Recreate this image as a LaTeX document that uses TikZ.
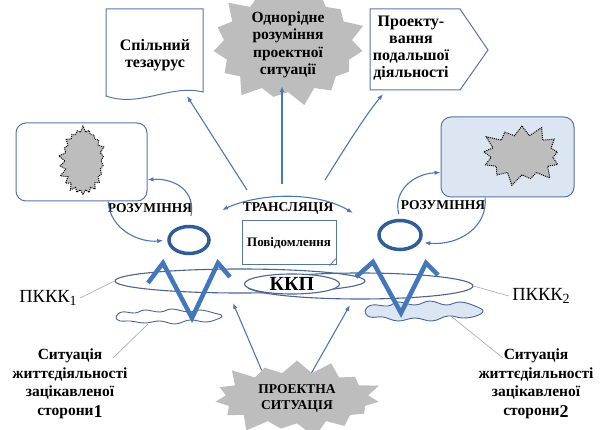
\documentclass[tikz,border=0pt]{standalone}
\usepackage{fontspec}
\setmainfont{Liberation Serif}
\usetikzlibrary{arrows.meta,positioning,calc,shapes.geometric,shapes.symbols}
\definecolor{linkblue}{HTML}{4A78B8}
\definecolor{figblue}{HTML}{4377BC}
\definecolor{headblue}{HTML}{2F5D98}
\definecolor{boxline}{HTML}{5676A6}
\definecolor{ringline}{HTML}{4A6590}
\definecolor{starfill}{HTML}{BDBDBD}
\definecolor{paleblue}{HTML}{DCE6F2}
\definecolor{leadgray}{HTML}{A0A8B4}
\newcommand\lowidx[2]{\raisebox{-0.35ex}{\fontsize{#1}{#1}\selectfont #2}}

\begin{document}
\begin{tikzpicture}[x=1pt,y=-1pt,
  lbl/.style={font=\bfseries\fontsize{16}{17}\selectfont, align=center},
  caps/.style={font=\bfseries\fontsize{13.5}{16}\selectfont, align=center},
  link/.style={linkblue, line width=1.1pt, -{Latex[length=6pt,width=4.5pt]}},
  lead/.style={leadgray, line width=0.6pt},
  burst/.style={starburst, fill=starfill, draw=none, starburst points=15,
    starburst point height=17pt, inner ysep=0pt},
  splat/.style={starburst, fill=starfill, draw=black, densely dotted,
    line width=1pt, inner sep=0pt},
  panel/.style={draw=boxline, line width=1pt, rounded corners=10pt},
  ring/.style={ellipse, draw=ringline, line width=1.1pt, inner sep=0pt},
  puff/.style={draw=ringline, line width=0.9pt},
  head/.style={ellipse, draw=headblue, line width=3.5pt, inner sep=0pt},
  figure/.style={figblue, line width=4.5pt, line join=miter}]

  \useasboundingbox (0,0) rectangle (606,430);

  % top row
  \draw[boxline, line width=1pt, fill=white] (106,9) -- (203,9) -- (203,92)
    .. controls (170,84) and (140,108) .. (106,96) -- cycle;
  \node[lbl] (tez) at (155,55) {Спільний\\тезаурус};
  \coordinate (tezB) at (187,96);

  \node[burst, inner xsep=9pt,
    font=\bfseries\fontsize{15.5}{17.5}\selectfont, align=center]
    (ostar) at (288,45) {Однорідне\\розуміння\\проектної\\ситуації};

  \draw[boxline, line width=1pt, fill=white] (370,9) -- (460,9) -- (488,50)
    -- (460,90) -- (370,90) -- cycle;
  \node[lbl] (proj) at (411,48) {Проекту-\\вання\\подальшої\\діяльності};
  \coordinate (projB) at (383,94);

  % hub
  \coordinate (hubA) at (247,190);
  \coordinate (hubB) at (282,184);
  \coordinate (hubC) at (325,180);
  \draw[link] (hubA) -- (tezB);
  \draw[link] (hubB) -- (282,86);
  \draw[link] (hubC) .. controls (345,148) and (365,116) .. (projB);

  % panels
  \node[panel, minimum width=131pt, minimum height=78pt] (lrect) at (81.5,162) {};
  \node[splat, random starburst=7, starburst points=22, starburst point height=7pt,
    minimum width=50pt, minimum height=72pt] (lsplat) at (83,161) {};
  \node[panel, fill=paleblue, minimum width=133pt, minimum height=80pt] (rrect) at (507.5,157) {};
  \node[splat, starburst points=13, starburst point height=13pt,
    inner xsep=22pt, inner ysep=14pt] (rsplat) at (522,155) {};

  \node[caps] (transl) at (288,208) {ТРАНСЛЯЦІЯ};
  \node[caps] (rozL) at (150,208) {РОЗУМІННЯ};
  \node[caps] (rozR) at (443,205) {РОЗУМІННЯ};
  \draw[linkblue, line width=1.1pt, {Latex[length=6pt,width=4.5pt]}-{Latex[length=6pt,width=4.5pt]}]
    (222,210) .. controls (262,192) and (318,192) .. (353,213);

  % message
  \node[draw=boxline, line width=1pt, fill=white, minimum width=94pt, minimum height=44pt,
    inner sep=1pt, font=\bfseries\fontsize{13}{14}\selectfont] (msg) at (289,243) {Повідомлення};
  \draw[boxline, line width=0.8pt] ($(msg.south east)+(-7,0)$) .. controls ($(msg.south east)+(-4,-3)$)
    and ($(msg.south east)+(-2,-6)$) .. ($(msg.south east)+(0,-7)$);

  % channels
  \node[ring, minimum width=250pt, minimum height=24pt] (pkkL) at (240,281) {};
  \node[ring, minimum width=226pt, minimum height=26pt] (pkkR) at (360,286) {};
  \node[ring, fill=white, minimum width=95pt, minimum height=20pt] (kkp) at (292,284) {};
  \node[font=\bfseries\fontsize{20}{20}\selectfont] (kkpT) at (kkp) {ККП};

  % situations (clouds)
  \draw[puff, fill=white] plot[smooth cycle, tension=0.7] coordinates {
    (116,317) (122,312) (135,313) (145,310) (160,312) (172,309) (188,312) (200,310)
    (214,313) (222,316) (215,320) (205,322) (190,320) (175,324) (160,321) (145,323)
    (130,321) (120,321)};
  \draw[puff, fill=paleblue] plot[smooth cycle, tension=0.7] coordinates {
    (365,311) (372,305) (388,306) (398,302) (415,305) (430,301) (446,305) (460,302)
    (475,306) (483,311) (476,316) (463,318) (448,316) (432,321) (415,318) (398,321)
    (383,317) (370,317)};
  \coordinate (cloudL) at (148,324);
  \coordinate (cloudR) at (452,317);

  % persons
  \draw[figure] (148,283) -- (163,263) -- (192,318) -- (218,263) -- (230,277);
  \draw[figure] (356,277) -- (373,262) -- (401,313) -- (426,263) -- (438,275);
  \node[head, minimum width=40pt, minimum height=27pt] (headL) at (189,240) {};
  \node[head, minimum width=42pt, minimum height=29pt] (headR) at (400,235) {};

  \draw[link, shorten <=9pt] (headL.north) .. controls (196,192) and (176,178) .. (lrect.-15);
  \draw[link, shorten >=4pt] (lrect.-56) .. controls (110,230) and (140,243) .. (headL.west);
  \draw[link, shorten <=5pt] (headR.north) .. controls (393,192) and (412,174) .. (rrect.193);
  \draw[link, shorten >=4pt] (rrect.241) .. controls (488,226) and (460,246) .. (headR.-20);

  % labels
  \node[font=\fontsize{18.5}{18}\selectfont] (pkkLabL) at (48,298) {ПККК\lowidx{14}{1}};
  \node[font=\fontsize{18.5}{18}\selectfont] (pkkLabR) at (541,296) {ПККК\lowidx{14}{2}};
  \draw[lead] (pkkLabL.east) -- (pkkL.west);
  \draw[lead] (pkkR.east) -- (pkkLabR.west);

  \node[font=\bfseries\fontsize{15.5}{18.5}\selectfont, align=center] (sitL) at (70,384)
    {Ситуація\\життєдіяльності\\зацікавленої\\сторони\lowidx{18}{1}};
  \node[font=\bfseries\fontsize{15.5}{18.5}\selectfont, align=center] (sitR) at (536,384)
    {Ситуація\\життєдіяльності\\зацікавленої\\сторони\lowidx{18}{2}};
  \coordinate (sitLtip) at (113,358);
  \coordinate (sitRtip) at (503,358);
  \draw[lead] (sitLtip) -- (cloudL);
  \draw[lead] (cloudR) -- (sitRtip);

  % project situation
  \node[burst, inner xsep=12pt, inner ysep=4pt,
    font=\bfseries\fontsize{13.5}{16}\selectfont, align=center]
    (pstar) at (297,398) {ПРОЕКТНА\\СИТУАЦІЯ};
  \coordinate (tgtL) at (233,303);
  \coordinate (tgtR) at (350,305);
  \draw[link] (pstar.142) -- (tgtL);
  \draw[link] (pstar.60) -- (tgtR);
\end{tikzpicture}
\end{document}
